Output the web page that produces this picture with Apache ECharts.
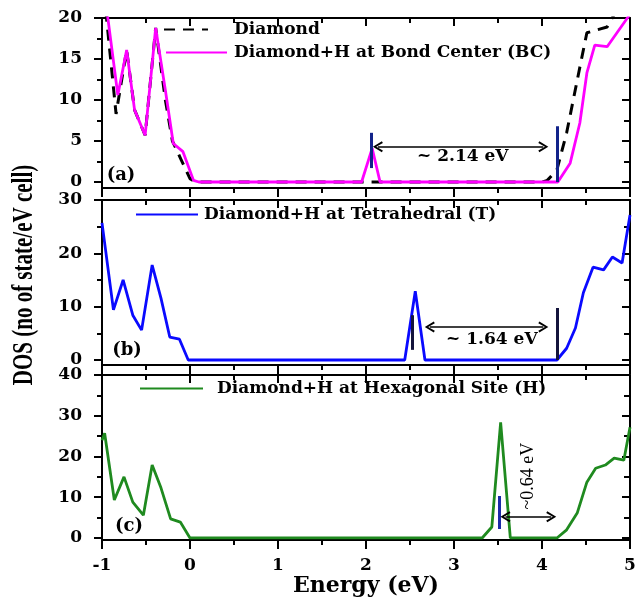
<!DOCTYPE html>
<html><head><meta charset="utf-8">
<script src="https://cdn.jsdelivr.net/npm/echarts@6/dist/echarts.min.js"></script>
<style>html,body{margin:0;padding:0;background:#fff}#c{width:637px;height:597px}</style>
</head><body><div id="c"></div>
<script>
// ---------- data ----------
const energyTicks = [-1, 0, 1, 2, 3, 4, 5];
const yMajorA = [0, 5, 10, 15, 20];
const yMinorA = [2.5, 7.5, 12.5, 17.5];
const yMajorB = [0, 10, 20, 30];
const yMinorB = [5, 15, 25];
const yMajorC = [0, 10, 20, 30, 40];
const yMinorC = [5, 15, 25, 35];

const diamondE   = [-1, -0.84, -0.72, -0.63, -0.51, -0.39, -0.28, -0.2, -0.1, 0, 0.06, 4.0, 4.06, 4.17, 4.28, 4.43, 4.51, 4.74, 4.85, 5.0];
const diamondDOS = [25.5, 8.3, 16.1, 8.8, 5.7, 18.8, 10, 5, 2.7, 0.4, 0, 0, 0.2, 1.5, 6, 14, 18.2, 18.9, 21, 23];

const bcE   = [-1, -0.82, -0.72, -0.63, -0.51, -0.39, -0.28, -0.19, -0.08, 0.04, 0.1, 1.95, 2.07, 2.16, 4.18, 4.32, 4.43, 4.51, 4.6, 4.74, 4.97, 5.0];
const bcDOS = [25.5, 10.6, 16.1, 8.8, 5.7, 18.8, 11.2, 4.7, 3.7, 0.2, 0, 0, 4.1, 0, 0, 2.3, 7.2, 13.3, 16.7, 16.5, 20, 20.5];

const tE   = [-1, -0.87, -0.76, -0.65, -0.55, -0.43, -0.33, -0.23, -0.12, -0.02, 2.44, 2.56, 2.67, 4.17, 4.28, 4.38, 4.47, 4.58, 4.7, 4.8, 4.91, 5.0];
const tDOS = [25.7, 9.4, 15, 8.4, 5.6, 17.8, 11.6, 4.3, 3.9, 0, 0, 12.9, 0, 0, 2.2, 6, 12.6, 17.4, 16.9, 19.3, 18.2, 27.2];

const hE   = [-1, -0.97, -0.86, -0.75, -0.65, -0.53, -0.43, -0.33, -0.22, -0.11, 0, 3.32, 3.43, 3.53, 3.64, 4.17, 4.28, 4.4, 4.51, 4.61, 4.72, 4.82, 4.93, 5.0];
const hDOS = [24, 25.7, 9.3, 15, 8.8, 5.6, 17.9, 12.3, 4.7, 3.9, 0, 0, 2.7, 28.4, 0, 0, 2, 6.1, 13.7, 17.1, 17.9, 19.6, 19.1, 27.2];

// annotations: markers [x, y1, y2]; arrow tips [x1, x2, y]; label [text, x, y]
const markersA = [[2.06, 1.7, 6.0], [4.17, 0, 6.8]];
const arrowA = [2.08, 4.07, 4.3];
const labelA = ['~ 2.14 eV', 3.1, 3.05];
const markersB = [[2.53, 1.9, 8.4], [4.17, 0, 9.75]];
const arrowB = [2.67, 4.07, 6.2];
const labelB = ['~ 1.64 eV', 3.43, 3.9];
const markersC = [[3.51, 2.2, 10.3], [4.17, -1, 12]];
const arrowC = [3.53, 4.16, 5.2];
const labelC = ['~0.64 eV', 3.84, 15.2];

const seriesNames = ['Diamond', 'Diamond+H at Bond Center (BC)', 'Diamond+H at Tetrahedral (T)', 'Diamond+H at Hexagonal Site (H)'];
const panelTags = ['(a)', '(b)', '(c)'];

// ---------- chart ----------
const F = 'DejaVu Serif';
const zip = (a, b) => a.map((v, i) => [v, b[i]]);
const chart = echarts.init(document.getElementById('c'), null, {renderer: 'canvas'});

const grids = [
  {left: 102, right: 7, top: 18, height: 170},
  {left: 102, right: 7, top: 200, height: 165},
  {left: 102, right: 7, top: 375, height: 165}
].map(g => Object.assign({outerBoundsMode: 'none', containLabel: false}, g));

const yRanges = [[-0.73, 20], [-0.94, 30], [-0.5, 40]];
const yMaj = [yMajorA, yMajorB, yMajorC];
const yMin = [yMinorA, yMinorB, yMinorC];

const axLine = {show: true, onZero: false, lineStyle: {color: '#000', width: 2}};
const noLine = {show: false, onZero: false};
const xAxis = [], yAxis = [];
for (let i = 0; i < 3; i++) {
  xAxis.push({
    type: 'value', gridIndex: i, position: 'bottom', min: -1, max: 5, interval: 1,
    axisLine: axLine, splitLine: {show: false},
    axisTick: {show: true, inside: false, length: 9, lineStyle: {color: '#000', width: 2}},
    minorTick: {show: true, splitNumber: 2, length: 5, lineStyle: {color: '#000', width: 2}},
    axisLabel: {show: i === 2, margin: 17, color: '#000', fontFamily: F, fontWeight: 'bold', fontSize: 17,
      customValues: energyTicks},
    name: i === 2 ? 'Energy (eV)' : '', nameLocation: 'middle', nameGap: 34,
    nameTextStyle: {color: '#000', fontFamily: F, fontWeight: 'bold', fontSize: 22}
  });
  xAxis.push({
    type: 'value', gridIndex: i, position: 'top', min: -1, max: 5, interval: 1,
    axisLine: axLine, splitLine: {show: false},
    axisTick: {show: true, inside: true, length: 8, lineStyle: {color: '#000', width: 2}},
    minorTick: {show: true, splitNumber: 2, length: 5, lineStyle: {color: '#000', width: 2}},
    axisLabel: {show: false}
  });
  const [mn, mx] = yRanges[i];
  const base = {type: 'value', gridIndex: i, min: mn, max: mx, splitLine: {show: false}, minorTick: {show: false}};
  yAxis.push(Object.assign({}, base, {position: 'left', axisLine: axLine,
    axisTick: {show: true, inside: false, length: 8, lineStyle: {color: '#000', width: 2}, customValues: yMaj[i]},
    axisLabel: {show: true, margin: 20, color: '#000', fontFamily: F, fontWeight: 'bold', fontSize: 17, customValues: yMaj[i]}}));
  yAxis.push(Object.assign({}, base, {position: 'left', axisLine: noLine,
    axisTick: {show: true, inside: false, length: 5, lineStyle: {color: '#000', width: 2}, customValues: yMin[i]},
    axisLabel: {show: false}}));
  yAxis.push(Object.assign({}, base, {position: 'right', axisLine: axLine,
    axisTick: {show: true, inside: true, length: 8, lineStyle: {color: '#000', width: 2}, customValues: yMaj[i]},
    axisLabel: {show: false}}));
  yAxis.push(Object.assign({}, base, {position: 'right', axisLine: noLine,
    axisTick: {show: true, inside: true, length: 6, lineStyle: {color: '#000', width: 2}, customValues: yMin[i]},
    axisLabel: {show: false}}));
}

const CHEVRON = 'path://M5,0 L10,9 L8.4,10 L5,3.4 L1.6,10 L0,9 Z';
const TIP_INSET = 0.055; // symbol is centred on the end point; pull it in so the tip lands on it
function marks(markers, arrow, label, mColor, labelStyle) {
  const lines = markers.map(m => [
    {coord: [m[0], m[1]], symbol: 'none', lineStyle: {color: mColor, width: 3, type: 'solid'}},
    {coord: [m[0], m[2]], symbol: 'none'}
  ]);
  lines.push([
    {coord: [arrow[0] + TIP_INSET, arrow[2]], symbol: CHEVRON, lineStyle: {color: '#000', width: 1.6, type: 'solid'}},
    {coord: [arrow[1] - TIP_INSET, arrow[2]], symbol: CHEVRON}
  ]);
  return {
    markLine: {silent: true, animation: false, symbolSize: [11, 10], label: {show: false}, data: lines},
    markPoint: {silent: true, animation: false, symbol: 'circle', symbolSize: 1,
      itemStyle: {color: 'rgba(0,0,0,0)'},
      data: [{coord: [label[1], label[2]], label: Object.assign({show: true, position: 'inside', formatter: label[0],
        color: '#000', fontFamily: F, fontWeight: 'bold', fontSize: 17}, labelStyle || {})}]}
  };
}

const lineBase = (name, xi, yi, data, color, width, type, z) => ({
  name, type: 'line', xAxisIndex: xi, yAxisIndex: yi, data, showSymbol: false, symbol: 'none',
  clip: true, z: z || 2, animation: false,
  lineStyle: {color, width, type: type || 'solid'}, itemStyle: {color}
});

const series = [
  lineBase(seriesNames[0], 0, 0, zip(diamondE, diamondDOS), '#000', 3, [11, 8], 2),
  Object.assign(lineBase(seriesNames[1], 0, 0, zip(bcE, bcDOS), '#ff00ff', 2.8, 'solid', 3), marks(markersA, arrowA, labelA, '#12238a')),
  Object.assign(lineBase(seriesNames[2], 2, 4, zip(tE, tDOS), '#0a0aff', 2.8, 'solid', 3), marks(markersB, arrowB, labelB, '#14143c')),
  Object.assign(lineBase(seriesNames[3], 4, 8, zip(hE, hDOS), '#1f8a1f', 2.8, 'solid', 3),
    marks(markersC, arrowC, labelC, '#1a2aa8', {rotate: 90, fontFamily: 'Liberation Serif', fontWeight: 'normal', fontSize: 18}))
];

const legTxt = {color: '#000', fontFamily: F, fontWeight: 'bold', fontSize: 17};
const mkLegend = (name, left, yc, w, pad) => ({
  data: [name], left, top: yc - 11, orient: 'horizontal', padding: 0, itemWidth: w, itemHeight: 12,
  selectedMode: false,
  itemStyle: {color: 'rgba(0,0,0,0)', borderColor: 'rgba(0,0,0,0)', borderWidth: 0},
  textStyle: Object.assign({}, legTxt, {padding: [0, 0, 0, pad]})
});

chart.setOption({
  animation: false,
  backgroundColor: '#fff',
  grid: grids,
  xAxis, yAxis, series,
  legend: [
    mkLegend(seriesNames[0], 163, 32, 44, 21),
    mkLegend(seriesNames[1], 165, 55, 61, 2),
    mkLegend(seriesNames[2], 135, 217, 62, 1),
    mkLegend(seriesNames[3], 139, 391, 63, 9)
  ],
  graphic: [
    {type: 'text', x: 24, y: 275, rotation: Math.PI / 2, scaleY: 1.45,
      style: {text: 'DOS (no of state/eV cell)', font: 'bold 21px "Liberation Serif"', fill: '#000', align: 'center', verticalAlign: 'middle'}},
    {type: 'text', x: 121, y: 175, style: {text: panelTags[0], font: 'bold 18px "DejaVu Serif"', fill: '#000', align: 'center', verticalAlign: 'middle'}},
    {type: 'text', x: 127, y: 350, style: {text: panelTags[1], font: 'bold 18px "DejaVu Serif"', fill: '#000', align: 'center', verticalAlign: 'middle'}},
    {type: 'text', x: 129, y: 526, style: {text: panelTags[2], font: 'bold 18px "DejaVu Serif"', fill: '#000', align: 'center', verticalAlign: 'middle'}}
  ]
});
</script></body></html>
